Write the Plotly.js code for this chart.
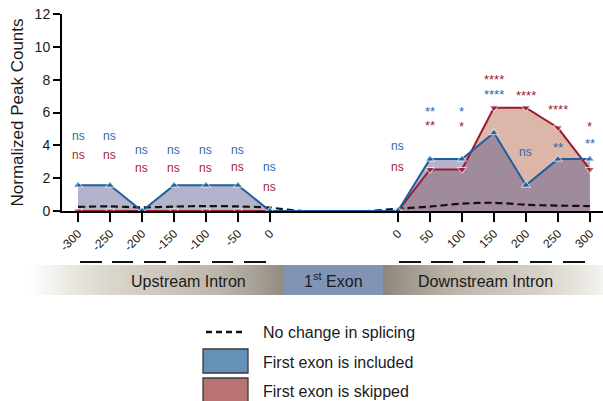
<!DOCTYPE html>
<html>
<head>
<meta charset="utf-8">
<script src="https://cdn.plot.ly/plotly-3.0.1.min.js"></script>
<style>html,body{margin:0;padding:0;background:#fff;}#chart{width:603px;height:401px;}</style>
</head>
<body>
<div id="chart"></div>
<script>
// ---------------- data ----------------
const upstreamLabels   = ['-300','-250','-200','-150','-100','-50','0'];
const downstreamLabels = ['0','50','100','150','200','250','300'];
const gapCount = 3; // exon region (no measurement points)

const includedUp   = [1.57, 1.57, 0, 1.57, 1.57, 1.57, 0];
const includedDown = [0, 3.16, 3.16, 4.77, 1.57, 3.16, 3.16];
const skippedUp    = [0, 0, 0, 0, 0, 0, 0];
const skippedDown  = [0, 2.53, 2.53, 6.29, 6.29, 5.07, 2.53];
const noChangeUp   = [0.25, 0.28, 0.22, 0.27, 0.3, 0.28, 0.2];
const noChangeDown = [0.14, 0.27, 0.45, 0.5, 0.38, 0.33, 0.3];
const gapValues    = [0, 0, 0];

const sigIncluded = ['ns','ns','ns','ns','ns','ns','ns','ns','**','*','****','ns','**','**'];
const sigSkipped  = ['ns','ns','ns','ns','ns','ns','ns','ns','**','*','****','****','****','*'];

// ---------------- build ----------------
const nUp = upstreamLabels.length;
const xs = [];
for (let i = 0; i < nUp + gapCount + downstreamLabels.length; i++) xs.push(i);
const pointX = xs.filter(i => i < nUp || i >= nUp + gapCount);
const tickText = upstreamLabels.concat(downstreamLabels);

const included = includedUp.concat(gapValues, includedDown);
const skipped  = skippedUp.concat(gapValues, skippedDown);
const noChange = noChangeUp.concat(gapValues, noChangeDown);
const isPoint = xs.map(i => i < nUp || i >= nUp + gapCount);

const BLUE = '#1d5f9f', RED = '#9d1b2f';
const BLUE_TXT = '#2a6bae', RED_TXT = '#a21f34';

const traces = [
  {x: xs, y: skipped, mode: 'none', fill: 'tozeroy', fillcolor: 'rgba(183,109,83,0.5)', hoverinfo: 'skip', showlegend: false},
  {x: xs, y: included, mode: 'none', fill: 'tozeroy', fillcolor: 'rgba(86,86,139,0.45)', hoverinfo: 'skip', showlegend: false},
  {x: xs, y: noChange, mode: 'lines', line: {color: '#111', width: 2.2, dash: '7px,4px', shape: 'spline', smoothing: 0.8}, showlegend: false},
  {x: xs, y: skipped, mode: 'lines+markers', line: {color: RED, width: 2},
   marker: {symbol: 'triangle-down', color: RED, size: isPoint.map(p => p ? 8 : 0)}, showlegend: false},
  {x: xs, y: included, mode: 'lines+markers', line: {color: BLUE, width: 2},
   marker: {symbol: 'triangle-up', color: BLUE, size: isPoint.map(p => p ? 8 : 0)}, showlegend: false}
];

// annotation label heights (data units)
const sigIncludedY = [4.57,4.57,3.71,3.71,3.71,3.71,2.68,3.98,6.27,6.27,7.27,3.59,4.08,4.32];
const sigSkippedY  = [3.41,3.41,2.62,2.62,2.62,2.70,1.46,2.66,5.38,5.36,8.22,7.20,6.35,5.36];

const annotations = [];
function sig(labels, ys, color) {
  labels.forEach((t, k) => {
    const star = t.indexOf('*') >= 0;
    annotations.push({x: pointX[k], y: ys[k], xref: 'x', yref: 'y', text: t, showarrow: false,
      font: {family: 'Arial, Liberation Sans, sans-serif', size: star ? 13 : 12, color: color},
      xanchor: 'center', yanchor: 'middle', yshift: star ? -3 : 0});
  });
}
sig(sigIncluded, sigIncludedY, BLUE_TXT);
sig(sigSkipped, sigSkippedY, RED_TXT);

// pixel helpers for schematic (paper coords)
const L = 62, T = 14, W = 541, H = 197;
const px = p => (p - L) / W;
const py = p => (T + H - p) / H;

const shapes = [];
function hexToRgb(h){return [parseInt(h.substr(1,2),16),parseInt(h.substr(3,2),16),parseInt(h.substr(5,2),16)];}
function gradient(stops, y0, y1, step) {
  const a = stops[0][0], b = stops[stops.length-1][0];
  for (let x = a; x < b; x += step) {
    const xm = x + step / 2;
    let j = 0;
    while (j < stops.length - 2 && xm > stops[j+1][0]) j++;
    const s0 = stops[j], s1 = stops[j+1];
    const f = Math.max(0, Math.min(1, (xm - s0[0]) / (s1[0] - s0[0])));
    const c0 = hexToRgb(s0[1]), c1 = hexToRgb(s1[1]);
    const c = c0.map((v, i) => Math.round(v + (c1[i] - v) * f));
    shapes.push({type: 'rect', xref: 'paper', yref: 'paper', x0: px(x), x1: px(Math.min(x + step + 0.6, b)),
      y0: py(y1), y1: py(y0), fillcolor: 'rgb(' + c.join(',') + ')', line: {width: 0}, layer: 'below'});
  }
}
const barTop = 265, barBot = 295;
gradient([[30,'#ffffff'],[70,'#ebe8e2'],[110,'#dad6cc'],[170,'#cbc5b9'],[220,'#bbb4a8'],[255,'#a9a196'],[283,'#948b80']], barTop, barBot, 3);
gradient([[383,'#8e867b'],[410,'#a19a8e'],[450,'#bab3a6'],[500,'#cac4b8'],[540,'#d7d2c8'],[575,'#e6e3dc'],[603,'#f4f3ef']], barTop, barBot, 3);
shapes.push({type: 'rect', xref: 'paper', yref: 'paper', x0: px(283), x1: px(383), y0: py(barBot), y1: py(barTop),
  fillcolor: '#8194b6', line: {width: 0}});

const dashSegs = [[80,102],[112,133],[144,166],[178,200],[212,233],[244,266],
                  [399,421],[431,453],[463,485],[497,518],[530,552],[563,585]];
dashSegs.forEach(d => shapes.push({type: 'line', xref: 'paper', yref: 'paper', x0: px(d[0]), x1: px(d[1]),
  y0: py(262), y1: py(262), line: {color: '#111', width: 2}}));

// legend
shapes.push({type: 'line', xref: 'paper', yref: 'paper', x0: px(206), x1: px(246), y0: py(332), y1: py(332),
  line: {color: '#111', width: 2.5, dash: '6px,4px'}});
shapes.push({type: 'rect', xref: 'paper', yref: 'paper', x0: px(203), x1: px(248), y0: py(373), y1: py(349),
  fillcolor: '#6591b9', line: {color: '#3a3a3a', width: 1.3}});
shapes.push({type: 'rect', xref: 'paper', yref: 'paper', x0: px(203), x1: px(248), y0: py(404), y1: py(378),
  fillcolor: '#b97373', line: {color: '#3a3a3a', width: 1.3}});

const F = 'Arial, Liberation Sans, sans-serif';
function label(text, x, y, size, anchor) {
  annotations.push({xref: 'paper', yref: 'paper', x: px(x), y: py(y), text: text, showarrow: false,
    xanchor: anchor || 'center', yanchor: 'middle', font: {family: F, size: size, color: '#1a1a1a'}});
}
label('Upstream Intron', 188.5, 281, 16);
label('1<sup>st</sup> Exon', 333, 280, 16);
label('Downstream Intron', 485, 281, 16);
label('No change in splicing', 261, 332, 16, 'left');
label('First exon is included', 261, 362, 16, 'left');
label('First exon is skipped', 261, 391, 16, 'left');

const layout = {
  width: 603, height: 401,
  margin: {l: L, r: 0, t: T, b: 401 - T - H},
  paper_bgcolor: '#fff', plot_bgcolor: '#fff',
  font: {family: F, color: '#1a1a1a'},
  showlegend: false,
  xaxis: {range: [-0.5, 16.41], showgrid: false, zeroline: false, showline: true, linecolor: '#000', linewidth: 2,
    tickmode: 'array', tickvals: pointX, ticktext: tickText, tickangle: -45,
    ticks: 'outside', ticklen: 9, tickwidth: 2, tickcolor: '#000',
    tickfont: {family: F, size: 12, color: '#1a1a1a'}},
  yaxis: {range: [0, 12], dtick: 2, showgrid: false, zeroline: false, showline: true, linecolor: '#000', linewidth: 2,
    ticks: 'outside', ticklen: 7, tickwidth: 2, tickcolor: '#000',
    tickfont: {family: F, size: 14, color: '#1a1a1a'},
    title: {text: 'Normalized Peak Counts', font: {family: F, size: 17, color: '#1a1a1a'}, standoff: 7}},
  shapes: shapes,
  annotations: annotations
};

Plotly.newPlot('chart', traces, layout, {displayModeBar: false, staticPlot: true});
</script>
</body>
</html>
